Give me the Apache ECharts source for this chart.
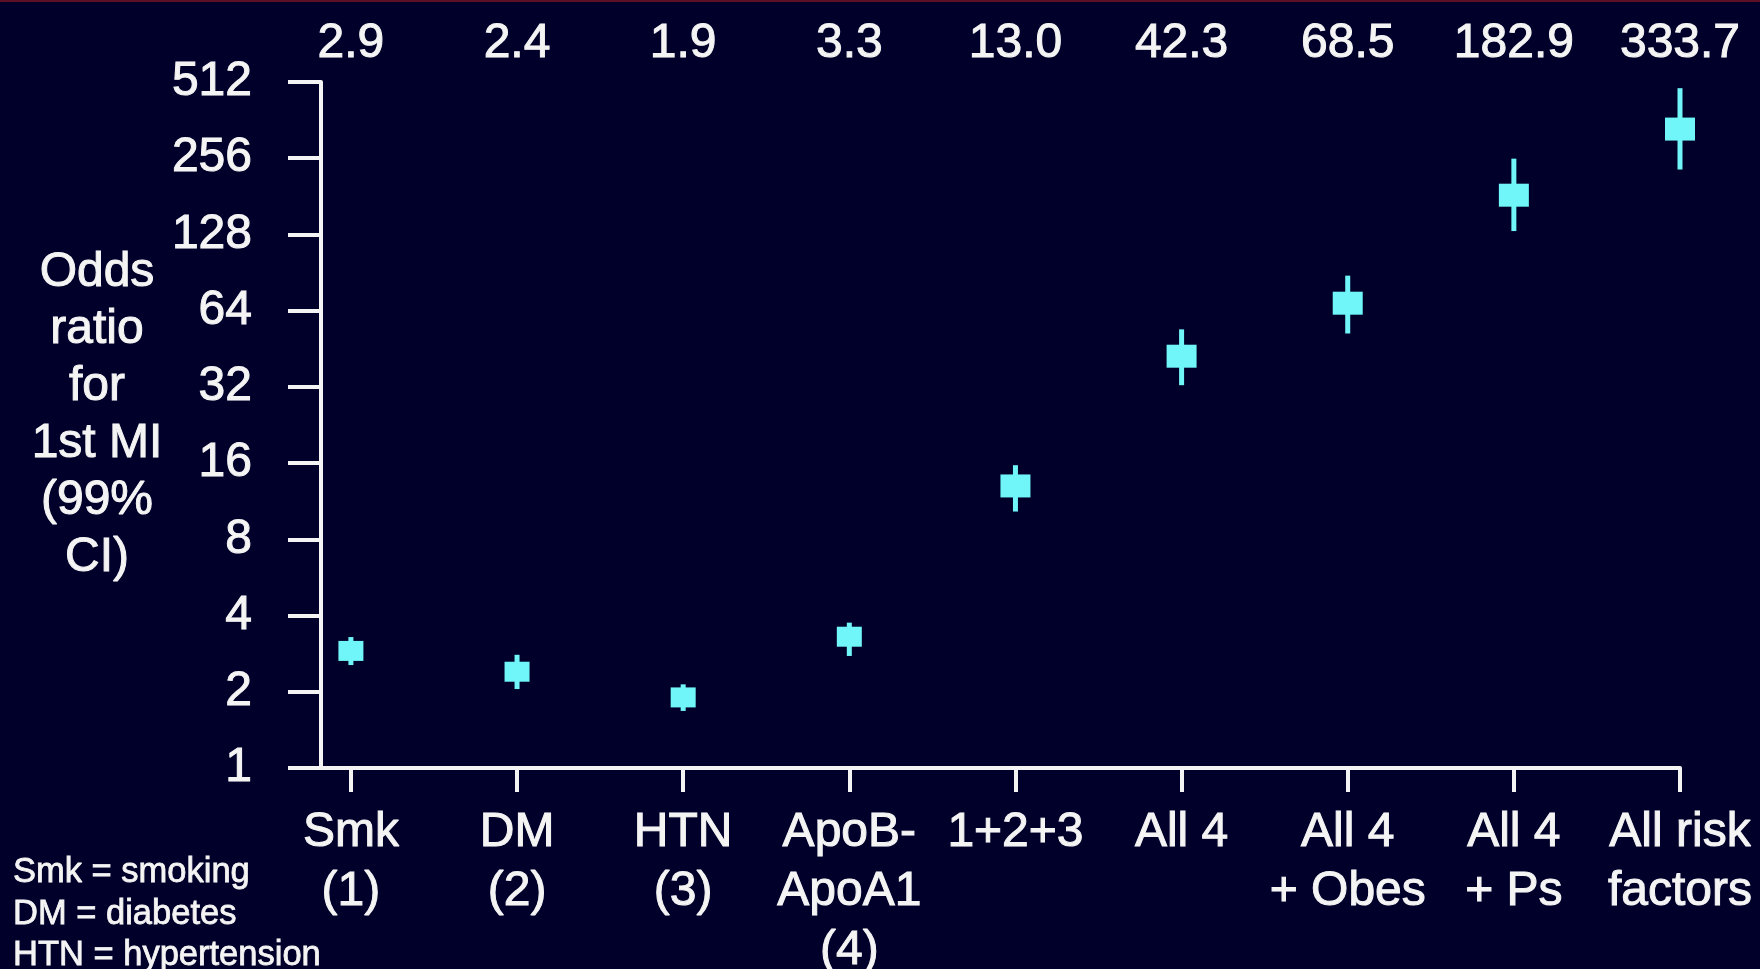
<!DOCTYPE html>
<html>
<head>
<meta charset="utf-8">
<title>Odds ratio for 1st MI</title>
<script src="https://cdn.jsdelivr.net/npm/echarts@6/dist/echarts.min.js"></script>
<style>
  html, body { margin: 0; padding: 0; background: #00002a; }
  #chart { width: 1760px; height: 969px; }
</style>
</head>
<body>
<div id="chart"></div>
<script>
// risk factor groups (x positions 0..8)
var categories = ['Smk\n(1)', 'DM\n(2)', 'HTN\n(3)', 'ApoB-\nApoA1\n(4)', '1+2+3',
                  'All 4', 'All 4\n+ Obes', 'All 4\n+ Ps', 'All risk\nfactors'];
// odds ratios, shown on top and as squares
var oddsRatio = [2.9, 2.4, 1.9, 3.3, 13.0, 42.3, 68.5, 182.9, 333.7];
// 99% CI read from the whiskers
var ciLow  = [2.55, 2.05, 1.68, 2.77, 10.3, 32.5, 52, 132, 231];
var ciHigh = [3.29, 2.8, 2.14, 3.75, 15.7, 54, 88, 255, 484];

var font = '"Liberation Sans", Arial, Helvetica, sans-serif';
var cyan = '#70f6f8';
var white = '#f4f4f4';

var idx = categories.map(function (c, i) { return i; });
var points = oddsRatio.map(function (v, i) { return [i, v]; });
var bars = oddsRatio.map(function (v, i) { return [i, ciLow[i], ciHigh[i]]; });

var chart = echarts.init(document.getElementById('chart'));
chart.setOption({
    backgroundColor: '#00002a',
    animation: false,
    grid: { left: 321, right: 80, top: 82, bottom: 201, outerBoundsMode: 'none', containLabel: false },
    xAxis: [{
        type: 'value',
        min: -0.18,
        max: 8,
        position: 'bottom',
        splitLine: { show: false },
        axisLine: { show: true, onZero: false, lineStyle: { color: white, width: 4 } },
        axisTick: { show: true, customValues: idx, length: 24, lineStyle: { color: white, width: 4 } },
        axisLabel: {
            customValues: idx,
            margin: 35,
            color: white,
            textBorderColor: white,
            textBorderWidth: 1,
            fontFamily: font,
            fontSize: 48,
            lineHeight: 59,
            formatter: function (v) { return categories[Math.round(v)]; }
        }
    }, {
        type: 'value',
        min: -0.18,
        max: 8,
        position: 'top',
        splitLine: { show: false },
        axisLine: { show: false, onZero: false },
        axisTick: { show: false },
        axisLabel: {
            customValues: idx,
            margin: 14,
            color: white,
            textBorderColor: white,
            textBorderWidth: 1,
            fontFamily: font,
            fontSize: 48,
            lineHeight: 48,
            formatter: function (v) { return oddsRatio[Math.round(v)].toFixed(1); }
        }
    }],
    yAxis: {
        type: 'log',
        logBase: 2,
        min: 1,
        max: 512,
        splitLine: { show: false },
        axisLine: { show: true, onZero: false, lineStyle: { color: white, width: 4 } },
        axisTick: { show: true, length: 33, lineStyle: { color: white, width: 4 } },
        axisLabel: {
            margin: 69,
            color: white,
            textBorderColor: white,
            textBorderWidth: 1,
            fontFamily: font,
            fontSize: 48,
            formatter: function (v) { return Math.round(v); }
        }
    },
    graphic: [
        { type: 'rect', left: 0, top: 0, shape: { width: 1760, height: 2 }, style: { fill: '#5c1026' } },
        {
            type: 'text', x: 97, y: 415,
            style: {
                text: 'Odds\nratio\nfor\n1st MI\n(99%\nCI)',
                fill: white, stroke: white, lineWidth: 1,
                font: '48px ' + font, lineHeight: 57,
                textAlign: 'center', textVerticalAlign: 'middle'
            }
        },
        {
            type: 'text', x: 13, y: 914,
            style: {
                text: 'Smk = smoking\nDM = diabetes\nHTN = hypertension',
                fill: white, stroke: white, lineWidth: 0.8,
                font: '34.5px ' + font, lineHeight: 41.5,
                textAlign: 'left', textVerticalAlign: 'middle'
            }
        }
    ],
    series: [{
        type: 'custom',
        xAxisIndex: 0,
        data: bars,
        encode: { x: 0, y: [1, 2] },
        renderItem: function (params, api) {
            var p1 = api.coord([api.value(0), api.value(1)]);
            var p2 = api.coord([api.value(0), api.value(2)]);
            return {
                type: 'line',
                shape: { x1: p1[0], y1: p1[1], x2: p2[0], y2: p2[1] },
                style: { stroke: cyan, lineWidth: 5 }
            };
        },
        z: 2
    }, {
        type: 'scatter',
        xAxisIndex: 0,
        data: points,
        symbol: 'rect',
        symbolSize: function (val, params) {
            return params.dataIndex < 4 ? [25, 20] : [30, 23];
        },
        itemStyle: { color: cyan, opacity: 1 },
        z: 3
    }]
});
</script>
</body>
</html>
